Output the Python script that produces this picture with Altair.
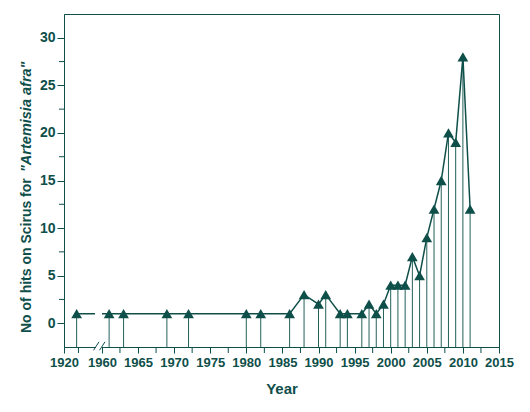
import altair as alt
import pandas as pd

# ---- data ----
years = [1922, 1961, 1963, 1969, 1972, 1980, 1982, 1986, 1988, 1990, 1991, 1993,
         1994, 1996, 1997, 1998, 1999, 2000, 2001, 2002, 2003, 2004, 2005, 2006,
         2007, 2008, 2009, 2010, 2011]
hits = [1, 1, 1, 1, 1, 1, 1, 1, 3, 2, 3, 1,
        1, 1, 2, 1, 2, 4, 4, 4, 7, 5, 9, 12,
        15, 20, 19, 28, 12]

# broken x axis: the 1920s segment is compressed next to 1960
early_origin = 1954.75      # where "1920" sits on the display scale
early_factor = 0.875
x_major = [1960, 1965, 1970, 1975, 1980, 1985, 1990, 1995, 2000, 2005, 2010, 2015]
x_minor = [1956.75] + [y + 2.5 for y in x_major[:-1]]
y_major = [0, 5, 10, 15, 20, 25, 30]
y_minor = [2.5, 7.5, 12.5, 17.5, 22.5, 27.5]

X_DOMAIN = [early_origin, 2015]
Y_DOMAIN = [-2.5, 32.5]

W, H = 435, 333
COL = "#0f4f4a"
STEM = "#24605a"
FONT = "Liberation Sans"


def disp(y):
    return early_origin + (y - 1920) * early_factor if y < 1950 else y


df = pd.DataFrame({"year": years, "hits": hits})
df["xpos"] = [disp(y) for y in years]

# break decoration (display-scale x positions)
gap_df = pd.DataFrame({"x0": [1959.04], "x1": [1960.01]})
axis_gap_df = pd.DataFrame({"x0": [1959.18], "x1": [1960.01]})
slash_df = pd.DataFrame({"xa": [1958.84, 1959.67], "xb": [1959.60, 1960.43]})
xminor_df = pd.DataFrame({"v": x_minor})
yminor_df = pd.DataFrame({"v": y_minor})

xscale = alt.Scale(domain=X_DOMAIN, nice=False, zero=False)
yscale = alt.Scale(domain=Y_DOMAIN, nice=False, zero=False)

x_axis = alt.Axis(
    values=[early_origin] + x_major,
    labelExpr="datum.value < 1956 ? '1920' : '' + datum.value",
    labelFlush=False, labelOverlap=False, labelSeparation=0, grid=False,
    tickSize=6, labelPadding=3, titlePadding=12,
    title="Year",
)
y_axis = alt.Axis(
    values=y_major, labelOverlap=False,
    grid=False, tickSize=7, labelPadding=2, title=None,
)


def X(f):
    return alt.X(f, scale=xscale, axis=x_axis)


def Y(f):
    return alt.Y(f, scale=yscale, axis=y_axis)


base = alt.Chart(df)

stems = base.mark_rule(color=STEM, strokeWidth=1).encode(
    x=X("xpos:Q"), y=Y("hits:Q"), y2=alt.value(H),
)

line = base.mark_line(color=COL, strokeWidth=1.5).encode(
    x=X("xpos:Q"), y=Y("hits:Q"),
)

line_gap = alt.Chart(gap_df).mark_rect(color="white").encode(
    x=X("x0:Q"), x2="x1:Q",
    y=alt.datum(0.55, scale=yscale, axis=y_axis), y2=alt.datum(1.45),
)

axis_gap = alt.Chart(axis_gap_df).mark_rect(color="white").encode(
    x=X("x0:Q"), x2="x1:Q",
    y=alt.value(H - 2), y2=alt.value(H + 2),
)

slashes = alt.Chart(slash_df).mark_rule(color=COL, strokeWidth=1).encode(
    x=X("xa:Q"), x2="xb:Q",
    y=alt.value(H + 3.3), y2=alt.value(H - 5.2),
)

xminor = alt.Chart(xminor_df).mark_rule(color=COL, strokeWidth=1).encode(
    x=X("v:Q"), y=alt.value(H), y2=alt.value(H + 6),
)

yminor = alt.Chart(yminor_df).mark_rule(color=COL, strokeWidth=1).encode(
    y=Y("v:Q"), x=alt.value(-5), x2=alt.value(0),
)

points = base.mark_point(shape="triangle-up", filled=True, size=115,
                         color=COL, opacity=1).encode(
    x=X("xpos:Q"), y=Y("hits:Q"),
)

title_df = pd.DataFrame({"t": ["No of hits on Scirus for"]})
title_it_df = pd.DataFrame({"t": ['"Artemisia afra"']})

ytitle = alt.Chart(title_df).mark_text(
    angle=270, align="left", baseline="middle", font=FONT, fontSize=14,
    fontWeight="bold", color=COL,
).encode(x=alt.value(-37), y=alt.value(319), text="t:N")

ytitle_it = alt.Chart(title_it_df).mark_text(
    angle=270, align="left", baseline="middle", font=FONT, fontSize=14.5,
    fontWeight="bold", fontStyle="italic", color=COL,
).encode(x=alt.value(-37), y=alt.value(158), text="t:N")

chart = alt.layer(
    stems, line, line_gap, axis_gap, slashes, xminor, yminor, points,
    ytitle, ytitle_it
).properties(
    width=W, height=H,
    autosize=alt.AutoSizeParams(type="none"),
    padding={"left": 56, "top": 6, "right": 22, "bottom": 58},
).configure_view(
    stroke=COL, strokeWidth=1
).configure_axis(
    domainColor=COL, tickColor=COL, labelColor=COL, titleColor=COL,
    labelFont=FONT, titleFont=FONT, labelFontSize=13, labelFontWeight="bold",
    titleFontSize=15, titleFontWeight="bold", domainWidth=1, tickWidth=1,
    labelOverlap=False,
).configure_axisY(
    labelFontSize=14
)

chart.save("out.html", embed_options={"renderer": "svg", "actions": False})
